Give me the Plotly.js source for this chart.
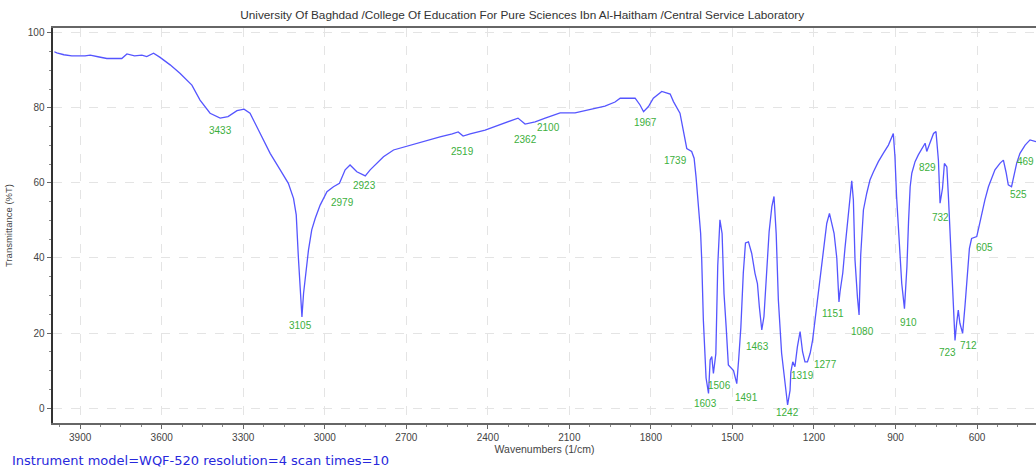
<!DOCTYPE html>
<html>
<head>
<meta charset="utf-8">
<script src="https://cdn.plot.ly/plotly-3.0.1.min.js"></script>
<style>
html,body{margin:0;padding:0;background:#fff;overflow:hidden;}
#chart{width:1036px;height:469px;}
</style>
</head>
<body>
<div id="chart"></div>
<script>
// Wavenumber (cm-1) and transmittance (%T)
const wavenumber = [3995,3986,3960,3931,3882,3863,3830,3802,3747,3728,3700,3687,3673,3655,3630,3606,3569,3532,3489,3459,3422,3385,3356,3323,3297,3275,3238,3201,3164,3134,3115,3105,3097,3088,3084,3078,3070,3060,3048,3035,3017,2992,2968,2946,2925,2907,2882,2851,2833,2784,2747,2686,2631,2576,2531,2509,2491,2465,2410,2355,2311,2289,2263,2226,2189,2163,2134,2079,2024,1969,1932,1913,1858,1840,1827,1809,1791,1760,1729,1717,1693,1680,1668,1650,1641,1634,1625,1617,1613,1607,1597,1588,1582,1576,1570,1561,1554,1546,1538,1531,1523,1515,1496,1484,1477,1469,1460,1452,1441,1429,1417,1408,1401,1392,1384,1374,1365,1355,1347,1339,1331,1319,1306,1297,1288,1285,1278,1270,1261,1251,1242,1233,1224,1214,1205,1196,1187,1180,1173,1163,1153,1143,1135,1126,1116,1108,1104,1094,1086,1076,1067,1061,1055,1049,1040,1034,1028,1018,1006,994,981,963,945,926,908,902,896,887,877,867,858,852,846,840,828,816,803,791,785,773,760,751,742,736,727,720,711,705,697,689,681,675,669,663,653,644,635,628,620,601,593,583,571,558,546,534,515,503,493,485,473,464,454,442,423,405,390,383];
const transmittance = [95.0,94.7,94.2,93.9,93.9,94.1,93.6,93.2,93.2,94.4,93.9,93.9,94.1,93.7,94.6,93.5,91.5,89.2,86.1,82.1,78.6,77.3,77.7,79.3,79.7,78.6,73.2,67.9,63.5,59.9,55.9,51.5,40.0,27.5,24.3,30.6,36.0,42.1,47.5,50.6,54.1,57.7,59.0,59.9,63.5,64.8,63.0,61.9,63.5,67.0,68.8,70.1,71.2,72.3,73.1,73.6,72.5,73.1,74.1,75.5,76.8,77.3,75.7,76.3,77.3,77.9,78.7,78.7,79.5,80.5,81.6,82.6,82.6,80.8,79.0,80.4,82.6,84.4,83.7,81.7,78.6,73.2,69.2,68.4,66.6,61.7,53.7,46.6,39.5,23.5,8.0,3.9,12.8,13.7,9.2,14.5,38.0,50.2,46.5,30.5,21.5,11.5,10.0,6.5,13.0,21.5,36.0,44.0,44.3,41.2,35.9,33.2,27.0,20.8,24.4,36.3,47.0,53.7,56.4,46.5,28.8,14.6,5.7,0.8,4.7,9.6,12.3,11.0,16.3,20.4,15.0,12.3,12.3,14.6,18.1,23.5,28.8,33.2,38.6,44.8,49.2,51.9,49.2,46.6,40.0,28.3,31.0,36.0,42.5,50.0,58.0,60.6,55.5,39.5,29.5,24.8,40.8,52.8,57.2,60.8,63.0,65.7,67.9,70.1,73.2,67.0,56.4,45.2,33.2,26.5,37.6,49.7,59.0,62.6,65.7,67.5,69.2,70.6,68.4,70.6,73.2,73.7,66.0,54.6,58.6,65.2,64.3,56.0,41.8,30.0,18.0,22.6,26.1,22.6,19.9,27.5,35.0,42.6,45.2,45.7,48.3,51.9,55.5,59.0,61.2,63.5,65.3,66.1,62.8,59.5,59.0,61.7,65.3,67.9,70.1,71.5,71.1,71.0];

// Peak labels: text and where each label sits (wavenumber, %T)
const peakText = ["3433","3105","2979","2923","2519","2362","2100","1967","1739","1603","1506","1491","1463","1242","1319","1277","1151","1080","910","829","732","723","712","605","525"];
const peakWn   = [3385,3091,2936,2855,2495,2263,2178,1821,1711,1600,1546,1447,1406,1299,1244,1159,1130,1023,854,784,736,710,633,571,449];
const peakT    = [74.1,21.9,54.7,59.2,68.3,71.7,74.7,76.0,65.9,1.3,6.1,2.7,16.3,-1.1,8.8,11.5,25.3,20.3,22.9,64.0,50.7,14.7,16.8,42.9,56.8];
const edgeLabelText = "469", edgeLabelWn = 383, edgeLabelT = 65.6;

const titleText = "University Of Baghdad /College Of Education For Pure Sciences Ibn Al-Haitham /Central Service Laboratory";
const footerText = "Instrument model=WQF-520 resolution=4 scan times=10";

const green = "rgb(60,175,60)";
const annotations = peakText.map((t, i) => ({
  x: peakWn[i], y: peakT[i], xref: "x", yref: "y", text: t, showarrow: false,
  font: {family: "Liberation Sans, Arial, sans-serif", size: 10, color: green},
  xanchor: "center", yanchor: "middle"
}));
annotations.push({
  x: edgeLabelWn, y: edgeLabelT, xref: "x", yref: "y", text: edgeLabelText, showarrow: false,
  font: {family: "Liberation Sans, Arial, sans-serif", size: 10, color: green},
  xanchor: "right", yanchor: "middle"
});
annotations.push({
  x: -0.044, y: -0.094, xref: "paper", yref: "paper", text: footerText, showarrow: false,
  font: {family: "DejaVu Sans, sans-serif", size: 13, color: "rgb(40,40,220)"},
  xanchor: "left", yanchor: "middle"
});

const trace = {
  x: wavenumber, y: transmittance, type: "scatter", mode: "lines",
  line: {color: "rgb(85,85,255)", width: 1.3}, hoverinfo: "skip"
};

const tickFont = {family: "Liberation Sans, Arial, sans-serif", size: 10, color: "#444"};
const layout = {
  width: 1036, height: 469,
  margin: {l: 53, r: 0, t: 28, b: 46},
  paper_bgcolor: "#fff", plot_bgcolor: "#fff",
  showlegend: false,
  title: {
    text: titleText, xref: "container", yref: "container", x: 0.504, y: 0.968,
    xanchor: "center", yanchor: "middle",
    font: {family: "Liberation Sans, Arial, sans-serif", size: 11.8, color: "#333"}
  },
  xaxis: {
    range: [4000, 383], tick0: 0, dtick: 300,
    showline: true, linecolor: "#666", linewidth: 2, mirror: true,
    ticks: "outside", ticklen: 4, tickcolor: "#666",
    minor: {dtick: 75, ticks: "outside", ticklen: 2, tickcolor: "#888", showgrid: false},
    showgrid: true, gridcolor: "#e4e4e4", griddash: "dash", gridwidth: 1,
    zeroline: false, tickfont: tickFont,
    title: {text: "Wavenumbers (1/cm)", standoff: 2,
            font: {family: "Liberation Sans, Arial, sans-serif", size: 10.5, color: "#444"}}
  },
  yaxis: {
    range: [-4, 101.33], tick0: 0, dtick: 20,
    showline: true, linecolor: "#333", linewidth: 2.5, mirror: false,
    ticks: "outside", ticklen: 4, tickcolor: "#666",
    minor: {dtick: 5, ticks: "outside", ticklen: 2, tickcolor: "#888", showgrid: false},
    showgrid: true, gridcolor: "#e4e4e4", griddash: "dash", gridwidth: 1,
    zeroline: false, tickfont: tickFont,
    title: {text: "Transmittance (%T)", standoff: 14,
            font: {family: "Liberation Sans, Arial, sans-serif", size: 9.5, color: "#444"}}
  },
  annotations: annotations
};

Plotly.newPlot("chart", [trace], layout, {displayModeBar: false, staticPlot: true});
</script>
</body>
</html>
